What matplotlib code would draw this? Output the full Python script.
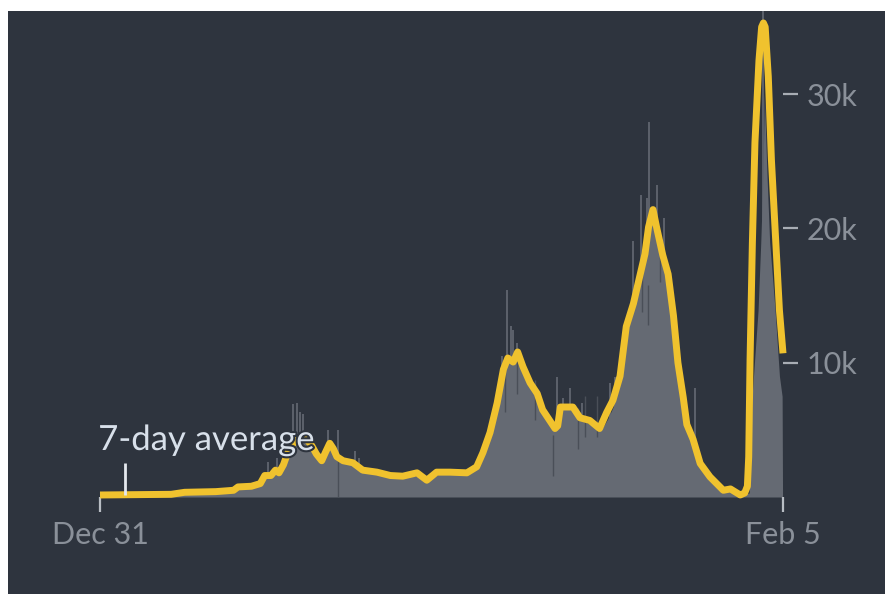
import matplotlib
matplotlib.use("Agg")
import matplotlib.pyplot as plt
import matplotlib.patheffects as pe

# days counted from Dec 31, values in thousands of cases
avg_days = [0, 80, 95, 130, 150, 155, 170, 180, 185, 192, 197, 201, 206, 213, 220, 225,
            232, 238, 243, 249, 253, 258, 262, 266, 273, 284, 295, 311, 326, 340, 356,
            367, 378, 393, 412, 423, 430, 438, 446, 453, 458, 464, 469, 475, 483, 491,
            497, 505, 511, 514, 517, 524, 531, 539, 550, 561, 569, 576, 584, 591, 599,
            606, 612, 616, 621, 625, 632, 638, 644, 649, 655, 659, 666, 674, 685,
            700, 708, 719, 724, 727, 728.5, 730, 732.6, 735.5, 740, 743, 745, 747,
            750.5, 754, 758, 763, 767]
avg_vals = [0.15, 0.2, 0.35, 0.4, 0.5, 0.75, 0.8, 1.0, 1.6, 1.6, 2.0, 1.8, 2.4, 3.7, 4.2, 4.4,
            4.3, 3.8, 3.2, 2.7, 3.3, 4.0, 3.6, 3.0, 2.7, 2.55, 2.0, 1.85, 1.6, 1.55, 1.8,
            1.25, 1.85, 1.85, 1.8, 2.25, 3.3, 4.8, 7.0, 9.5, 10.35, 10.05, 10.8, 9.7, 8.5, 7.7,
            6.5, 5.7, 5.1, 5.3, 6.7, 6.7, 6.7, 5.9, 5.7, 5.1, 6.3, 7.2, 9.0, 12.7, 14.4,
            16.4, 18.1, 20.1, 21.4, 20.1, 18.0, 16.6, 13.5, 10.0, 7.4, 5.4, 4.3, 2.5, 1.5,
            0.5, 0.6, 0.15, 0.3, 0.8, 3.0, 10.2, 18.9, 26.4, 32.5, 35.0, 35.3, 35.0,
            31.3, 25.1, 20.1, 13.9, 10.7]

# daily counts (grey area)
daily_days = [0, 90, 150, 180, 185, 195, 205, 212, 220, 230, 240, 248, 255, 262, 270, 285,
              300, 320, 340, 360, 368, 380, 400, 415, 425, 432, 440, 448, 455, 462, 470,
              478, 486, 495, 503, 510, 517, 525, 533, 540, 548, 556, 563, 570, 577, 585,
              592, 600, 607, 614, 620, 625, 632, 640, 645, 652, 658, 665, 672, 680, 690,
              700, 715, 724, 729, 732.5, 739, 742, 744.5, 746, 749, 752, 758, 763, 766, 766.5]
daily_vals = [0, 0.2, 0.5, 1.0, 1.6, 2.0, 2.3, 3.6, 4.8, 4.6, 3.8, 2.7, 3.8, 3.2, 2.7, 2.5,
              2.0, 1.7, 1.5, 1.6, 1.2, 1.7, 1.8, 1.8, 2.4, 3.5, 5.5, 8.0, 9.8, 10.2, 10.5,
              9.0, 8.0, 6.7, 5.6, 5.3, 6.5, 6.6, 6.4, 5.7, 5.5, 5.2, 5.0, 5.8, 6.8, 9.0,
              12.5, 14.5, 16.5, 18.5, 21.0, 20.0, 17.5, 15.0, 11.5, 9.0, 6.5, 4.0, 2.8, 1.8, 1.0,
              0.6, 0.3, 0.2, 0.3, 7.7, 13.9, 18.9, 23.8, 30.0, 24.0, 19.0, 14.0, 9.0, 7.5, 0]

# single days well above the level
spike_days = [188.7, 198.8, 216.7, 221.2, 224.6, 228, 256, 267.3, 286.4, 290.8, 451.4, 457,
              461.5, 463.8, 468.3, 480.6, 513.2, 519.9, 527.8, 541.3, 572.7, 578.3, 590.7,
              598.5, 607.5, 614.3, 616.5, 625.5, 633.5, 668.4, 745.1]
spike_vals = [2.6, 2.9, 6.9, 7.0, 6.3, 6.2, 5.0, 5.0, 3.4, 2.9, 10.5, 15.4,
              12.7, 12.4, 11.5, 8.6, 8.9, 7.4, 8.1, 7.0, 8.5, 8.9, 13.0,
              19.1, 22.5, 22.3, 27.9, 23.2, 20.8, 8.1, 40.0]

# single days well below the level
dip_days = [267.3, 454.8, 468.3, 488.5, 508.7, 536.8, 544.6, 558.1, 608.6, 615.4, 628.9]
dip_vals = [0.0, 6.3, 7.7, 5.7, 1.6, 3.6, 4.5, 4.5, 13.8, 12.8, 16.0]

x_ticks = [0, 767]
x_labels = ["Dec 31", "Feb 5"]
y_ticks = [10, 20, 30]
y_labels = ["10k", "20k", "30k"]

bg = "#2e343e"
grey = "#656a73"
yellow = "#f0c22e"
label_col = "#8a9099"

plt.rcParams["font.family"] = ["Lato", "DejaVu Sans"]

fig = plt.figure(figsize=(8.85, 5.94), dpi=100, facecolor="white")
back = fig.add_axes([8 / 885, 0, 877 / 885, 583 / 594])
back.set_facecolor(bg)
back.set_xticks([])
back.set_yticks([])
for s in back.spines.values():
    s.set_visible(False)

ax = fig.add_axes([100 / 885, 97 / 594, 683 / 885, 486 / 594])
ax.patch.set_alpha(0)
ax.set_xlim(0, 767)
ax.set_ylim(0, 36.19)

ax.fill_between(daily_days, daily_vals, 0, color=grey, linewidth=0)
ax.vlines(spike_days, 0, spike_vals, color=grey, linewidth=1.2)
ax.vlines(dip_days, dip_vals, [v + 3 for v in dip_vals], color="#4a4f58", linewidth=1.0)
ax.plot(avg_days, avg_vals, color=yellow, linewidth=5, solid_joinstyle="round",
        solid_capstyle="butt", clip_on=False)

# 7-day average label with its pointer
ax.vlines([28], 0.15, 2.5, color="#e4e8ee", linewidth=2)
t = ax.text(-2, 3.5, "7-day average", color="#d8e0ea", fontsize=25,
            ha="left", va="baseline")
t.set_path_effects([pe.withStroke(linewidth=3, foreground=bg)])

for s in ax.spines.values():
    s.set_visible(False)
ax.set_xticks(x_ticks)
ax.set_xticklabels(x_labels)
ax.set_yticks(y_ticks)
ax.set_yticklabels(y_labels)
ax.yaxis.tick_right()
ax.tick_params(axis="x", length=11, width=1.6, color="#b8bdc4", pad=6,
               labelsize=22, labelcolor=label_col)
ax.tick_params(axis="y", length=11, width=1.6, color="#a8adb4", pad=6,
               labelsize=22, labelcolor=label_col)

fig.savefig("out.png", dpi=100, facecolor="white")
